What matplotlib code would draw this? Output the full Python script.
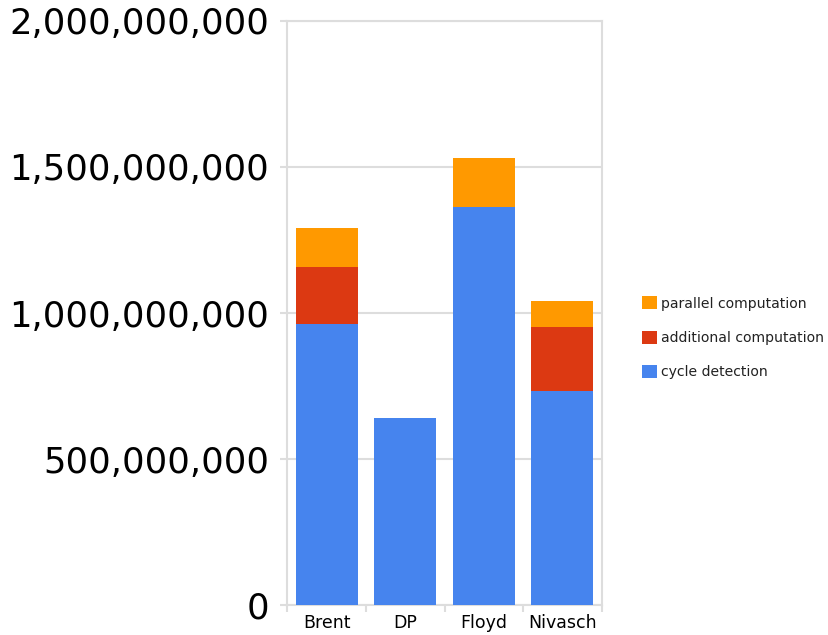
import matplotlib.pyplot as plt
import numpy as np
from matplotlib.ticker import FuncFormatter

algorithms = ["Brent", "DP", "Floyd", "Nivasch"]
cycle_detection = [962e6, 640e6, 1364e6, 733e6]
additional_computation = [197e6, 0, 0, 220e6]
parallel_computation = [131e6, 0, 166e6, 89e6]

blue = "#4684ee"
red = "#dc3912"
orange = "#ff9900"
grid_gray = "#dddddd"

fig = plt.figure(figsize=(8.29, 6.35), dpi=100)
ax = fig.add_axes([0.3466, 0.0465, 0.3792, 0.9209])

x = np.arange(len(algorithms))
w = 0.79
base = np.zeros(len(algorithms))
b1 = ax.bar(x, cycle_detection, w, bottom=base, color=blue, label="cycle detection", zorder=3)
base += cycle_detection
b2 = ax.bar(x, additional_computation, w, bottom=base, color=red, label="additional computation", zorder=3)
base += additional_computation
b3 = ax.bar(x, parallel_computation, w, bottom=base, color=orange, label="parallel computation", zorder=3)

ax.set_xlim(-0.5, len(algorithms) - 0.5)
ax.set_ylim(0, 2e9)
ax.set_yticks(np.arange(0, 2.01e9, 5e8))
ax.yaxis.set_major_formatter(FuncFormatter(lambda v, p: f"{int(v):,}"))
ax.tick_params(axis="y", labelsize=25.5, length=5, color=grid_gray, width=1.5, pad=8)

# category labels centered, ticks at the boundaries
ax.set_xticks(x)
ax.set_xticklabels(algorithms, fontsize=12.5)
ax.tick_params(axis="x", length=0, pad=6)
ax.set_xticks(np.arange(-0.5, len(algorithms)), minor=True)
ax.tick_params(axis="x", which="minor", length=5, color=grid_gray, width=1.5)

ax.grid(axis="y", color=grid_gray, linewidth=1.5, zorder=0)
for s in ax.spines.values():
    s.set_color(grid_gray)
    s.set_linewidth(1.5)

handles = [b3, b2, b1]
fig.legend(handles, [h.get_label() for h in handles],
           loc="center left", bbox_to_anchor=(0.766, 0.468),
           frameon=False, fontsize=10.1, handlelength=1.05, handleheight=1.05,
           handletextpad=0.3, labelspacing=1.42, borderpad=0,
           labelcolor="#222222")

fig.savefig("out.png", dpi=100)
